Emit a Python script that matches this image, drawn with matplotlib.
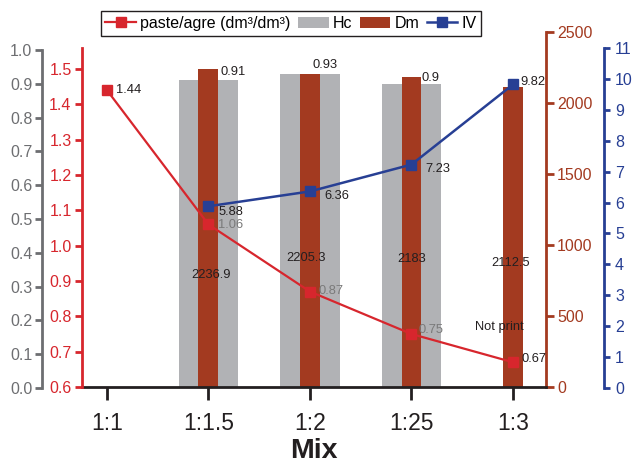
import matplotlib
matplotlib.use("Agg")
import matplotlib.pyplot as plt
import numpy as np
from matplotlib.lines import Line2D
from matplotlib.patches import Patch

plt.rcParams['font.family'] = ['Liberation Sans', 'DejaVu Sans']

# ---------------- data ----------------
mixes = ["1:1", "1:1.5", "1:2", "1:25", "1:3"]
paste_agre = [1.44, 1.06, 0.87, 0.75, 0.67]
hc = [np.nan, 0.91, 0.93, 0.90, np.nan]
dm = [np.nan, 2236.9, 2205.3, 2183.0, 2112.5]
iv = [np.nan, 5.88, 6.36, 7.23, 9.82]

paste_labels = ["1.44", "1.06", "0.87", "0.75", "0.67"]
hc_labels = ["", "0.91", "0.93", "0.9", ""]
dm_labels = ["", "2236.9", "2205.3", "2183", "2112.5"]
iv_labels = ["", "5.88", "6.36", "7.23", "9.82"]
note_text = "Not print"

# ---------------- style ----------------
W, H = 632, 467
GRAY_AX = "#6d6e71"
GRAY_BAR = "#b1b2b5"
RED = "#d7262d"
BROWN = "#a33a20"
BLUE = "#273f94"
DARK = "#231f20"
LBL_GRAY = "#7a7a7a"

fig = plt.figure(figsize=(W / 100, H / 100), dpi=100)

L_PX, R_PX = 82, 546


def rect(top_px, bottom_px):
    return [L_PX / W, 1 - bottom_px / H, (R_PX - L_PX) / W, (bottom_px - top_px) / H]


x = np.arange(len(mixes))
xlim = (-0.246, 4.325)

ax_gray = fig.add_axes(rect(50, 388), zorder=1)
ax_dm = fig.add_axes(rect(32, 387), zorder=2)
ax_red = fig.add_axes(rect(48, 387), zorder=3)
ax_blue = fig.add_axes(rect(48, 388), zorder=4)

for a in (ax_dm, ax_red, ax_blue):
    a.patch.set_visible(False)
for a in (ax_gray, ax_dm, ax_red, ax_blue):
    a.set_xlim(*xlim)
    for s in a.spines.values():
        s.set_visible(False)
        s.set_linewidth(2)

# Hc bars (gray axis)
hc_arr = np.array(hc)
m = ~np.isnan(hc_arr)
ax_gray.bar(x[m], hc_arr[m], width=0.59, color=GRAY_BAR, linewidth=0)
ax_gray.set_ylim(0, 1.0)
ax_gray.set_yticks(np.round(np.arange(0, 1.01, 0.1), 1))
ax_gray.yaxis.set_major_formatter(matplotlib.ticker.FormatStrFormatter('%.1f'))
ax_gray.spines['left'].set_visible(True)
ax_gray.spines['left'].set_color(GRAY_AX)
ax_gray.spines['left'].set_position(('outward', 40 * 0.72))
ax_gray.tick_params(axis='y', colors=GRAY_AX, labelsize=11.5, length=5, width=2, pad=2)
ax_gray.set_xticks([])

# Dm bars (brown axis, right)
dm_arr = np.array(dm)
m = ~np.isnan(dm_arr)
ax_dm.bar(x[m], dm_arr[m], width=0.197, color=BROWN, linewidth=0)
ax_dm.set_ylim(0, 2500)
ax_dm.set_yticks(np.arange(0, 2501, 500))
ax_dm.yaxis.tick_right()
ax_dm.spines['right'].set_visible(True)
ax_dm.spines['right'].set_color(BROWN)
ax_dm.spines['bottom'].set_visible(True)
ax_dm.spines['bottom'].set_color(DARK)
ax_dm.tick_params(axis='y', colors=BROWN, labelsize=11.5, length=6, width=2, pad=2)
ax_dm.set_xticks(x)
ax_dm.set_xticklabels(mixes)
ax_dm.tick_params(axis='x', colors=DARK, labelsize=16.5, length=9.4, width=2, pad=8.5)
ax_dm.set_xlabel("Mix", fontsize=20.5, fontweight='bold', color=DARK, labelpad=2)

# paste/agre line (red axis, left)
ax_red.plot(x, paste_agre, color=RED, lw=1.6, marker='s', ms=6.5, mec=RED, mfc=RED)
ax_red.set_ylim(0.6, 1.5594)
ax_red.set_yticks(np.round(np.arange(0.6, 1.51, 0.1), 1))
ax_red.yaxis.set_major_formatter(matplotlib.ticker.FormatStrFormatter('%.1f'))
ax_red.spines['left'].set_visible(True)
ax_red.spines['left'].set_color(RED)
ax_red.tick_params(axis='y', colors=RED, labelsize=11.5, length=5, width=2, pad=2.5)
ax_red.set_xticks([])

# IV line (blue axis, far right)
ax_blue.plot(x, iv, color=BLUE, lw=1.8, marker='s', ms=6.5, mec=BLUE, mfc=BLUE)
ax_blue.set_ylim(0, 11)
ax_blue.set_yticks(np.arange(0, 12, 1))
ax_blue.yaxis.tick_right()
ax_blue.spines['right'].set_visible(True)
ax_blue.spines['right'].set_color(BLUE)
ax_blue.spines['right'].set_position(('outward', 58 * 0.72))
ax_blue.tick_params(axis='y', colors=BLUE, labelsize=11.5, length=4.5, width=2, pad=3.5)
ax_blue.set_xticks([])

# ---------------- labels ----------------
FS = 9.3
paste_off = [(9, 0), (10, -1), (9, 1), (7, 4), (8, 3)]
paste_col = [DARK, LBL_GRAY, LBL_GRAY, LBL_GRAY, DARK]
for i, (t, v) in enumerate(zip(paste_labels, paste_agre)):
    ax_red.annotate(t, (x[i], v), xytext=paste_off[i], textcoords='offset pixels',
                    ha='left', va='center', fontsize=FS, color=paste_col[i])

hc_off = [None, (12, 8), (3, 9), (10, 6), None]
for i, (t, v) in enumerate(zip(hc_labels, hc)):
    if t:
        ax_gray.annotate(t, (x[i], v), xytext=hc_off[i], textcoords='offset pixels',
                         ha='left', va='center', fontsize=FS, color=DARK)

dm_off = [None, (3, -206), (-4, -184), (0, -182), (-2, -176)]
for i, (t, v) in enumerate(zip(dm_labels, dm)):
    if t:
        ax_dm.annotate(t, (x[i], v), xytext=dm_off[i], textcoords='offset pixels',
                       ha='center', va='center', fontsize=FS, color=DARK)

iv_off = [None, (10, -6), (14, -5), (14, -4), (7, 2)]
for i, (t, v) in enumerate(zip(iv_labels, iv)):
    if t:
        ax_blue.annotate(t, (x[i], v), xytext=iv_off[i], textcoords='offset pixels',
                         ha='left', va='center', fontsize=FS, color=DARK)

ax_dm.annotate(note_text, (x[4], 0), xytext=(-14, 60), textcoords='offset pixels',
               ha='center', va='center', fontsize=FS, color=DARK)

# ---------------- legend ----------------
handles = [
    Line2D([], [], color=RED, lw=1.6, marker='s', ms=6.5),
    Patch(facecolor=GRAY_BAR, edgecolor='none'),
    Patch(facecolor=BROWN, edgecolor='none'),
    Line2D([], [], color=BLUE, lw=1.8, marker='s', ms=6.5),
]
labels = ["paste/agre (dm³/dm³)", "Hc", "Dm", "IV"]
leg = fig.legend(handles, labels, loc='center', bbox_to_anchor=(291 / W, 1 - 23.5 / H),
                 ncol=4, frameon=True, fancybox=False, edgecolor=DARK, fontsize=11.5,
                 handlelength=1.9, handletextpad=0.25, columnspacing=0.5,
                 borderpad=0.3, borderaxespad=0, framealpha=1)
leg.get_frame().set_linewidth(1.0)

fig.savefig("out.png", dpi=100)
